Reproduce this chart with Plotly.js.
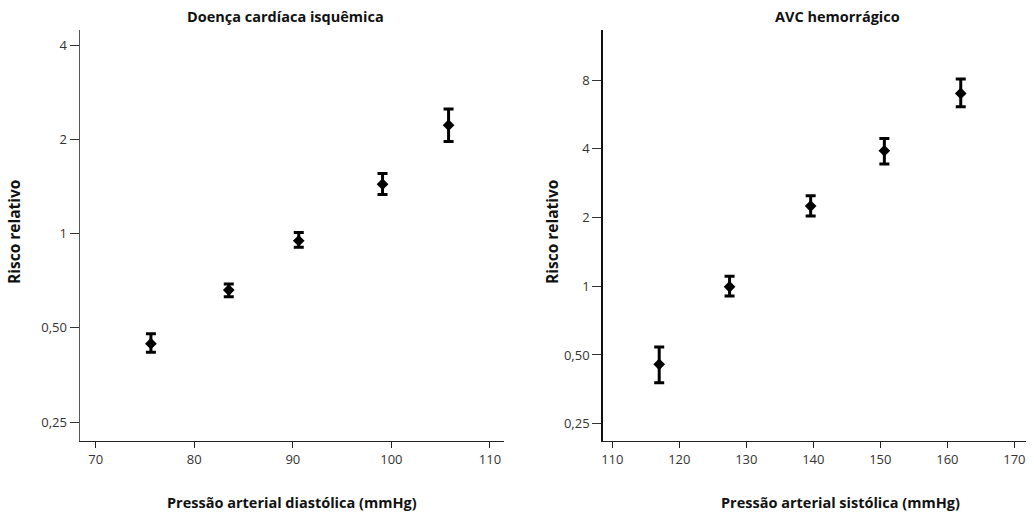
<!DOCTYPE html>
<html>
<head>
<meta charset="utf-8">
<script src="https://cdn.plot.ly/plotly-3.0.1.min.js"></script>
<style>html,body{margin:0;padding:0;background:#fff;}#chart{width:1034px;height:512px;}</style>
</head>
<body>
<div id="chart"></div>
<script>
// Left panel: Doença cardíaca isquêmica (diastolic BP)
const dbp = [75.6, 83.5, 90.6, 99.1, 105.8];
const dbpRisk = [0.445, 0.660, 0.949, 1.438, 2.22];
const dbpUpper = [0.479, 0.690, 1.009, 1.557, 2.50];
const dbpLower = [0.418, 0.628, 0.904, 1.334, 1.97];

// Right panel: AVC hemorrágico (systolic BP)
const sbp = [117.0, 127.5, 139.6, 150.6, 162.0];
const sbpRisk = [0.455, 0.994, 2.245, 3.92, 6.99];
const sbpUpper = [0.542, 1.106, 2.49, 4.44, 8.08];
const sbpLower = [0.378, 0.906, 2.03, 3.43, 6.11];

const yTickVals = [0.25, 0.5, 1, 2, 4, 8];
const yTickText = ["0,25", "0,50", "1", "2", "4", "8"];
const xTicksLeft = [70, 80, 90, 100, 110];
const xTicksRight = [110, 120, 130, 140, 150, 160, 170];

function trace(x, y, up, lo, xa, ya) {
  return {
    type: 'scatter', mode: 'markers', x: x, y: y, xaxis: xa, yaxis: ya,
    marker: {symbol: 'diamond', size: 9, color: '#000'},
    error_y: {type: 'data', symmetric: false,
      array: y.map((v, i) => up[i] - v),
      arrayminus: y.map((v, i) => v - lo[i]),
      color: '#000', thickness: 3, width: 5},
    showlegend: false, hoverinfo: 'x+y'
  };
}

const FONT = 'Open Sans, Liberation Sans, sans-serif';
const tickFont = {family: FONT, size: 13, color: '#333'};

function yaxis(range, lineColor, anchor) {
  return {
    type: 'log', range: range, domain: [0.1387, 0.9414], anchor: anchor,
    tickvals: yTickVals, ticktext: yTickText, ticks: 'outside', ticklen: 9,
    tickwidth: 1, tickcolor: '#333', showline: true, linecolor: lineColor, linewidth: 1.5,
    showgrid: false, zeroline: false, tickfont: tickFont
  };
}
function xaxis(range, domain, tv, anchor) {
  return {
    range: range, domain: domain, anchor: anchor, tickvals: tv, ticks: 'outside', ticklen: 6,
    tickwidth: 1, tickcolor: '#222', showline: true, linecolor: '#222', linewidth: 1.5,
    showgrid: false, zeroline: false, tickfont: tickFont
  };
}

const data = [
  trace(dbp, dbpRisk, dbpUpper, dbpLower, 'x', 'y'),
  trace(sbp, sbpRisk, sbpUpper, sbpLower, 'x2', 'y2')
];

function ann(text, x, y, size, angle) {
  return {text: '<b>' + text + '</b>', xref: 'paper', yref: 'paper', x: x / 1034, y: 1 - y / 512,
    showarrow: false, xanchor: 'center', yanchor: 'middle', textangle: angle || 0,
    font: {family: FONT, size: size, color: '#111'}};
}

const layout = {
  width: 1034, height: 512,
  margin: {l: 0, r: 0, t: 0, b: 0},
  paper_bgcolor: '#fff', plot_bgcolor: '#fff',
  xaxis: xaxis([68.41, 111.42], [0.0774, 0.4874], xTicksLeft, 'y'),
  yaxis: yaxis([Math.log10(0.2176), Math.log10(4.47)], '#555', 'x'),
  xaxis2: xaxis([108.57, 171.79], [0.5829, 0.9926], xTicksRight, 'y2'),
  yaxis2: yaxis([Math.log10(0.21), Math.log10(13.25)], '#111', 'x2'),
  annotations: [
    ann('Doença cardíaca isquêmica', 285, 16, 14.5),
    ann('AVC hemorrágico', 837, 16, 14.5),
    ann('Pressão arterial diastólica (mmHg)', 292, 502, 14.5),
    ann('Pressão arterial sistólica (mmHg)', 840, 502, 14.5),
    ann('Risco relativo', 14, 232, 15.5, -90),
    ann('Risco relativo', 552, 232, 15.5, -90)
  ]
};

Plotly.newPlot('chart', data, layout, {displayModeBar: false, staticPlot: true});
</script>
</body>
</html>
